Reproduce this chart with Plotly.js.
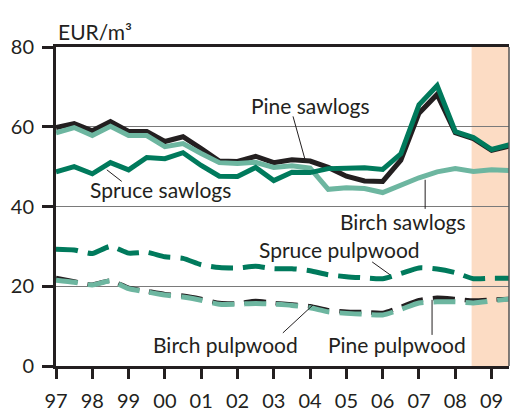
<!DOCTYPE html>
<html>
<head>
<meta charset="utf-8">
<script src="https://cdn.plot.ly/plotly-3.0.1.min.js"></script>
<style>html,body{margin:0;padding:0;background:#fff;}#chart{width:510px;height:411px;}</style>
</head>
<body>
<div id="chart"></div>
<script>
// Half-year observation points
const periods = [1997, 1997.5, 1998, 1998.5, 1999, 1999.5, 2000, 2000.5, 2001, 2001.5, 2002, 2002.5, 2003, 2003.5,
  2004, 2004.5, 2005, 2005.5, 2006, 2006.5, 2007, 2007.5, 2008, 2008.5, 2009, 2009.5];

const pineSawlogs   = [59.8, 60.8, 59.0, 61.3, 58.8, 58.8, 56.3, 57.5, 54.5, 51.4, 51.3, 52.6, 51.0, 51.7, 51.4, 49.8, 47.6, 46.4, 46.3, 51.6, 63.4, 68.1, 58.5, 57.0, 54.1, 55.2];
const birchSawlogs  = [58.5, 59.8, 57.8, 60.1, 57.8, 57.8, 55.0, 55.8, 53.3, 51.0, 50.8, 51.1, 49.8, 50.2, 49.6, 44.3, 44.7, 44.5, 43.5, 45.5, 47.2, 48.7, 49.5, 48.8, 49.2, 49.0];
const spruceSawlogs = [48.7, 50.0, 48.2, 51.0, 49.2, 52.3, 52.0, 53.5, 50.3, 47.6, 47.5, 49.8, 46.5, 48.6, 48.5, 49.5, 49.6, 49.7, 49.3, 53.2, 65.5, 70.3, 58.8, 57.3, 54.3, 55.5];
const sprucePulpwood = [29.3, 29.1, 28.2, 30.0, 28.3, 28.5, 27.4, 27.0, 25.4, 24.7, 24.6, 25.0, 24.4, 24.4, 23.9, 22.9, 22.4, 22.1, 21.9, 23.2, 24.6, 24.3, 23.4, 21.9, 22.0, 22.0];
const pinePulpwood   = [22.1, 21.2, 20.4, 21.4, 19.6, 18.8, 18.0, 17.6, 16.8, 15.8, 15.7, 16.3, 15.8, 15.4, 15.0, 14.0, 13.6, 13.5, 13.3, 14.8, 16.5, 17.1, 16.8, 16.4, 16.6, 16.8];
const birchPulpwood  = [21.5, 21.0, 20.3, 21.3, 19.4, 18.6, 17.8, 17.3, 16.5, 15.5, 15.5, 15.7, 15.5, 15.2, 14.6, 13.6, 13.2, 13.0, 12.8, 14.2, 15.8, 16.1, 16.1, 15.8, 16.3, 16.8];

const tickYears  = [1997, 1998, 1999, 2000, 2001, 2002, 2003, 2004, 2005, 2006, 2007, 2008, 2009];
const tickLabels = ["97", "98", "99", "00", "01", "02", "03", "04", "05", "06", "07", "08", "09"];
const yTicks = [0, 20, 40, 60, 80];
const forecastStart = 2008.45;
const forecastEnd = 2009.5;

const BLACK = '#231f20', DARK = '#007a5c', LIGHT = '#6db6a0';
const FONT = 'Lato, "Open Sans", sans-serif';
const DASH = '22px,10px';

const traces = [
  {x: periods, y: pinePulpwood, mode: 'lines', line: {color: BLACK, width: 4.5, dash: DASH, shape: 'spline', smoothing: 0.6}},
  {x: periods, y: birchPulpwood, mode: 'lines', line: {color: LIGHT, width: 5, dash: DASH, shape: 'spline', smoothing: 0.6}},
  {x: periods, y: sprucePulpwood, mode: 'lines', line: {color: DARK, width: 5, dash: DASH, shape: 'spline', smoothing: 0.6}},
  {x: periods, y: pineSawlogs, mode: 'lines', line: {color: BLACK, width: 5}},
  {x: periods, y: birchSawlogs, mode: 'lines', line: {color: LIGHT, width: 5}},
  {x: periods, y: spruceSawlogs, mode: 'lines', line: {color: DARK, width: 5}}
];

function label(text, x, y, xanchor) {
  return {text: text, x: x, y: y, xref: 'x', yref: 'y', showarrow: false,
    xanchor: xanchor || 'center', yanchor: 'middle', font: {family: FONT, size: 21, color: BLACK}};
}
function leader(x0, y0, x1, y1) {
  return {type: 'line', xref: 'x', yref: 'y', x0: x0, y0: y0, x1: x1, y1: y1, line: {color: BLACK, width: 1}};
}

const layout = {
  width: 510, height: 411,
  margin: {l: 56, r: 1, t: 47, b: 45},
  paper_bgcolor: '#fff', plot_bgcolor: 'rgba(0,0,0,0)',
  showlegend: false,
  font: {family: FONT, size: 20, color: BLACK},
  xaxis: {
    range: [1997, 2009.48], tickvals: tickYears, ticktext: tickLabels,
    ticks: 'outside', ticklen: 10, tickwidth: 3, tickcolor: BLACK,
    showline: true, linewidth: 3, linecolor: BLACK, mirror: true,
    showgrid: false, zeroline: false, ticklabelstandoff: 5,
    tickfont: {family: FONT, size: 20, color: BLACK}
  },
  yaxis: {
    range: [0, 80], tickvals: yTicks,
    ticks: 'outside', ticklen: 11, tickwidth: 3, tickcolor: BLACK,
    showline: true, linewidth: 3, linecolor: BLACK,
    showgrid: true, gridcolor: '#7a7a7a', gridwidth: 1.2, zeroline: false,
    ticklabelstandoff: 4,
    tickfont: {family: FONT, size: 20, color: BLACK}
  },
  shapes: [
    {type: 'rect', xref: 'x', yref: 'paper', x0: forecastStart, x1: forecastEnd, y0: 0, y1: 1,
      fillcolor: '#fcdcc4', line: {width: 0}, layer: 'below'},
    {type: 'line', xref: 'paper', yref: 'paper', x0: 1, x1: 1, y0: 0, y1: 1, line: {color: '#555', width: 1.5}},
    leader(2003.53, 62.6, 2003.86, 51.8),
    leader(1998.40, 49.2, 1998.81, 46.3),
    leader(2007.17, 46.7, 2007.17, 39.4),
    leader(2005.71, 26.1, 2006.20, 22.9),
    leader(2003.25, 8.3, 2004.08, 15.3),
    leader(2007.36, 16.6, 2007.36, 7.8)
  ],
  annotations: [
    {text: 'EUR/m³', xref: 'paper', yref: 'paper', x: 0, y: 1.05, xanchor: 'left', yanchor: 'middle',
      showarrow: false, font: {family: FONT, size: 21, color: BLACK}},
    label('Pine sawlogs', 2004.02, 65.3),
    label('Spruce sawlogs', 1999.87, 44.2),
    label('Birch sawlogs', 2006.56, 36.2),
    label('Spruce pulpwood', 2004.82, 29.1),
    label('Birch pulpwood', 2001.68, 5.3),
    label('Pine pulpwood', 2006.39, 5.3)
  ]
};

Plotly.newPlot('chart', traces, layout, {staticPlot: true, displayModeBar: false});
</script>
</body>
</html>
